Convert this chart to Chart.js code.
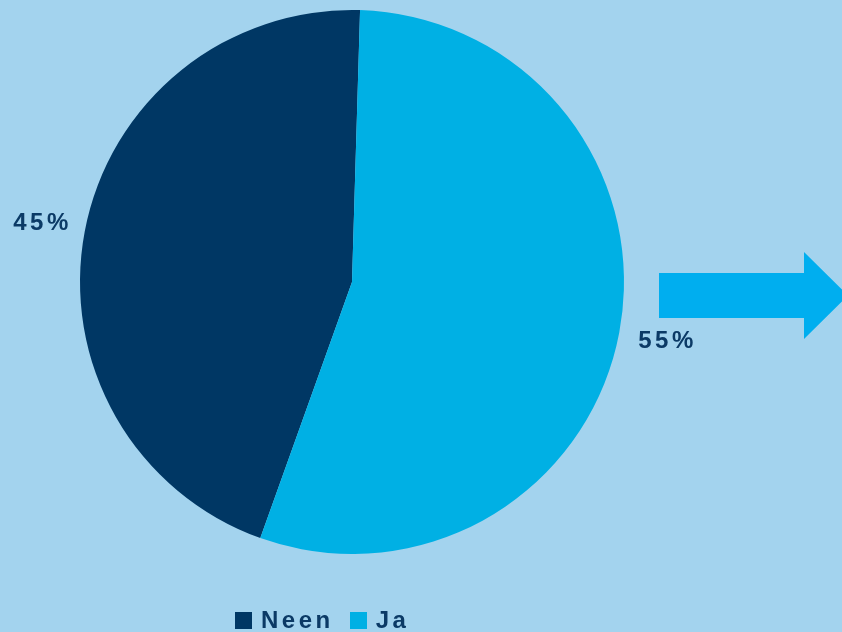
<!DOCTYPE HTML>
<html>

<head>
    <title>Neen / Ja</title>
    <meta http-equiv="Content-Type" content="text/html; charset=UTF-8" />
    <script src="https://cdn.jsdelivr.net/npm/chart.js@4.4.1/dist/chart.umd.min.js"></script>
    <style type="text/css">
        body {
            margin: 0;
            background: #A3D3EE;
            font-family: "Liberation Sans", Arial, sans-serif;
        }

        .chart-wrapper {
            position: relative;
            width: 842px;
            height: 632px;
            overflow: hidden;
        }

        .arrow {
            position: absolute;
            left: 659px;
            top: 252px;
            width: 189px;
            height: 87px;
            background: #00AEEF;
            clip-path: polygon(0 21px, 145px 21px, 145px 0, 189px 43.5px, 145px 87px, 145px 66px, 0 66px);
        }

        .legend {
            position: absolute;
            left: 235px;
            top: 605px;
            display: flex;
            color: #0B3A66;
            font-weight: bold;
            font-size: 24px;
            letter-spacing: 3.5px;
            line-height: 30px;
        }

        .legend span.box {
            display: inline-block;
            width: 17px;
            height: 17px;
            margin-right: 9px;
            vertical-align: -1px;
        }

        .legend .item {
            margin-right: 16px;
        }
    </style>
</head>

<body>
    <div class="chart-wrapper">
        <canvas id="myChart"></canvas>
        <div class="arrow"></div>
        <div class="legend" id="legend"></div>
    </div>
</body>
<script type="text/javascript">
    let labels = ['Neen', 'Ja'];
    let values = [45, 55];
    let colorHex = ['#003764', '#00B0E4'];

    // legend (html so the letter spacing matches)
    let legend = document.getElementById('legend');
    labels.forEach(function (name, i) {
        let item = document.createElement('div');
        item.className = 'item';
        item.innerHTML = '<span class="box" style="background:' + colorHex[i] + '"></span>' + name;
        legend.appendChild(item);
    });

    // percentage labels outside the slices
    let outsideLabels = {
        id: 'outsideLabels',
        afterDatasetsDraw: function (chart) {
            let ctx = chart.ctx;
            let meta = chart.getDatasetMeta(0);
            ctx.save();
            ctx.fillStyle = '#0B3A66';
            ctx.font = 'bold 24px "Liberation Sans", Arial, sans-serif';
            ctx.letterSpacing = '3.5px';
            ctx.textAlign = 'center';
            ctx.textBaseline = 'middle';
            meta.data.forEach(function (arc, i) {
                let mid = (arc.startAngle + arc.endAngle) / 2;
                let r = arc.outerRadius + 46;
                let x = arc.x + Math.cos(mid) * r;
                let y = arc.y + Math.sin(mid) * r;
                ctx.fillText(values[i] + '%', x + 3, y);
            });
            ctx.restore();
        }
    };

    let ctx = document.getElementById('myChart').getContext('2d');
    let myChart = new Chart(ctx, {
        type: 'pie',
        data: {
            labels: labels,
            datasets: [{
                data: values,
                backgroundColor: colorHex,
                borderWidth: 0
            }]
        },
        options: {
            responsive: true,
            maintainAspectRatio: false,
            animation: false,
            rotation: 199.7,
            layout: {
                padding: { top: 10, bottom: 78, left: 0, right: 138 }
            },
            plugins: {
                legend: { display: false },
                tooltip: { enabled: false }
            }
        },
        plugins: [outsideLabels]
    });
</script>

</html>
